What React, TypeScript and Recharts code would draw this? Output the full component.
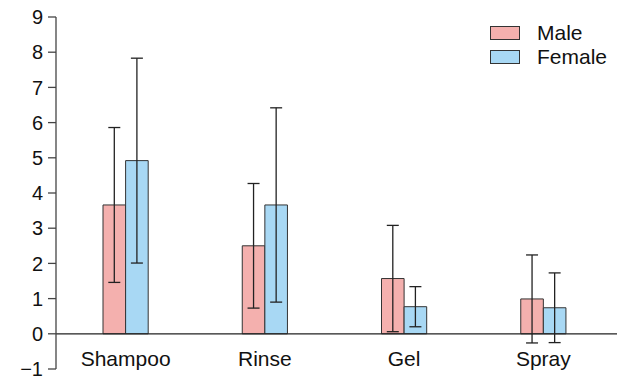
import React from "react";
import {
  BarChart,
  Bar,
  XAxis,
  YAxis,
  ErrorBar,
  ReferenceLine,
  Legend,
} from "recharts";

const categories = ["Shampoo", "Rinse", "Gel", "Spray"];
const maleMeans = [3.66, 2.5, 1.57, 0.99];
const femaleMeans = [4.92, 3.66, 0.77, 0.74];
const maleErr = [2.2, 1.77, 1.51, 1.25];
const femaleErr = [2.91, 2.76, 0.57, 0.99];
const yTicks = [-1, 0, 1, 2, 3, 4, 5, 6, 7, 8, 9];
const seriesOrder = ["male", "female"];

const MALE = "#F4B0AE";
const FEMALE = "#A8D8F4";
const FONT = "Arial, 'Liberation Sans', sans-serif";

const data = categories.map((name, i) => ({
  name,
  male: maleMeans[i],
  female: femaleMeans[i],
  maleErr: maleErr[i],
  femaleErr: femaleErr[i],
}));

const CategoryTick = ({ x, y, payload }: any) => (
  <text x={x} y={y} dy={-3} textAnchor="middle" fontSize={21} fill="#111" fontFamily={FONT}>
    {payload.value}
  </text>
);

const LegendBox = ({ payload }: any) => {
  const items = [...(payload || [])].sort(
    (a: any, b: any) => seriesOrder.indexOf(a.dataKey) - seriesOrder.indexOf(b.dataKey)
  );
  return (
    <div style={{ fontFamily: FONT, fontSize: 21, color: "#111" }}>
      {items.map((p: any) => (
        <div key={p.value} style={{ display: "flex", alignItems: "center", height: 24 }}>
          <span
            style={{
              display: "inline-block",
              width: 28,
              height: 12,
              background: p.color,
              border: "1px solid #333",
              marginRight: 17,
            }}
          />
          <span>{p.value}</span>
        </div>
      ))}
    </div>
  );
};

export default function App() {
  return (
    <div style={{ position: "absolute", left: 0, top: 0 }}>
      <BarChart
        width={617}
        height={376}
        data={data}
        margin={{ top: 17, right: 0, bottom: 6, left: 0 }}
        barGap={0}
        barSize={22.6}
      >
        <XAxis
          dataKey="name"
          axisLine={false}
          tickLine={false}
          tickSize={0}
          tickMargin={0}
          height={1}
          padding={{ left: 0, right: 4 }}
          tick={<CategoryTick />}
          interval={0}
        />
        <YAxis
          width={56}
          domain={[-1, 9]}
          ticks={yTicks}
          interval={0}
          tickSize={8}
          tickMargin={5}
          axisLine={{ stroke: "#444", strokeWidth: 1.3 }}
          tickLine={{ stroke: "#444", strokeWidth: 1.3 }}
          tick={{ fontSize: 20, fill: "#111", fontFamily: FONT }}
          tickFormatter={(v: number) => (v < 0 ? `\u2212${Math.abs(v)}` : `${v}`)}
        />
        <ReferenceLine y={0} stroke="#222" strokeWidth={1.3} />
        <Legend
          layout="horizontal"
          verticalAlign="middle"
          align="center"
          content={<LegendBox />}
          wrapperStyle={{ position: "absolute", top: 21, left: 490, width: "auto" }}
        />
        <Bar dataKey="male" name="Male" fill={MALE} stroke="#333" strokeWidth={1} isAnimationActive={false}>
          <ErrorBar dataKey="maleErr" width={6} stroke="#222" strokeWidth={1.3} />
        </Bar>
        <Bar dataKey="female" name="Female" fill={FEMALE} stroke="#333" strokeWidth={1} isAnimationActive={false}>
          <ErrorBar dataKey="femaleErr" width={6} stroke="#222" strokeWidth={1.3} />
        </Bar>
      </BarChart>
    </div>
  );
}
